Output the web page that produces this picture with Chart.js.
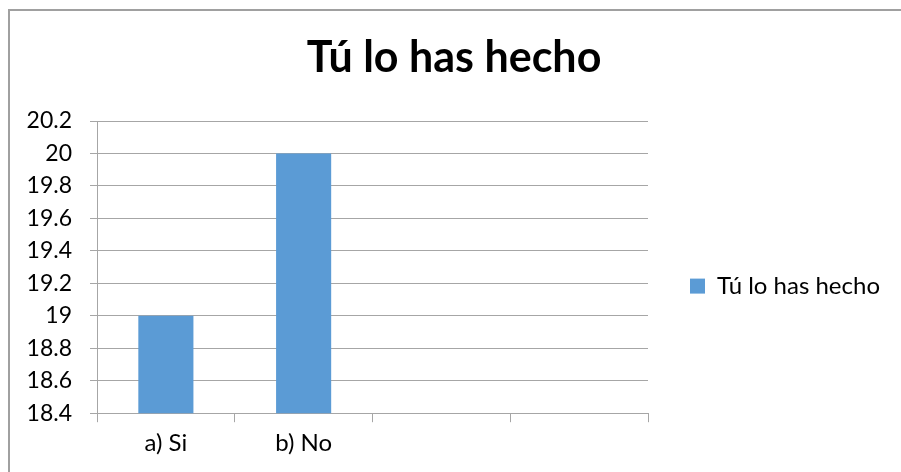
<!DOCTYPE html>
<html>
<head>
<meta charset="utf-8">
<script src="https://cdn.jsdelivr.net/npm/chart.js@4.4.1/dist/chart.umd.min.js"></script>
<style>
  html, body { margin: 0; padding: 0; background: #fff; overflow: hidden; }
  #frame {
    position: absolute; left: 8px; top: 9px;
    width: 1000px; height: 600px;
    border-left: 2px solid #a0a0a0;
    border-top: 2px solid #a0a0a0;
  }
  #wrap { position: absolute; left: 0; top: 0; width: 901px; height: 472px; }
</style>
</head>
<body>
<div id="frame"></div>
<div id="wrap"><canvas id="chart" width="901" height="472"></canvas></div>
<script>
// values
const titleText = "Tú lo has hecho";
const categories = ["a) Si", "b) No", "", ""];
const seriesName = "Tú lo has hecho";
const seriesValues = [19, 20, null, null];
const yMin = 18.4;
const yMax = 20.2;
const yStep = 0.2;

const gridColor = "#a6a6a6";
const font = "Lato, 'Open Sans', 'DejaVu Sans', sans-serif";

const ctx = document.getElementById("chart").getContext("2d");

new Chart(ctx, {
  type: "bar",
  data: {
    labels: categories,
    datasets: [
      {
        label: seriesName,
        data: seriesValues,
        backgroundColor: "#5b9bd5",
        borderWidth: 0,
        barPercentage: 0.4,
        categoryPercentage: 1.0,
      },
    ],
  },
  options: {
    responsive: false,
    animation: false,
    layout: {
      padding: { left: 18, right: 11, top: 0, bottom: 7 },
    },
    plugins: {
      title: {
        display: true,
        text: titleText,
        color: "#000",
        font: { family: font, size: 43, weight: "bold" },
        padding: { top: 32.5, bottom: 36.9 },
      },
      legend: {
        position: "right",
        // empty legend title, only used to push the entry down
        title: {
          display: true,
          text: "",
          font: { size: 1 },
          padding: { top: 106, bottom: 0 },
        },
        labels: {
          color: "#000",
          font: { family: font, size: 24 },
          boxWidth: 15,
          boxHeight: 15,
          padding: 10,
        },
      },
      tooltip: { enabled: false },
    },
    scales: {
      x: {
        offset: true,
        grid: {
          offset: true,
          drawOnChartArea: false,
          color: gridColor,
          tickLength: 9,
        },
        border: { color: gridColor },
        ticks: {
          color: "#000",
          font: { family: font, size: 24 },
          padding: 7,
          maxRotation: 0,
        },
      },
      y: {
        min: yMin,
        max: yMax,
        afterFit: (scale) => { scale.width = 79; },
        ticks: {
          stepSize: yStep,
          color: "#000",
          font: { family: font, size: 23 },
          padding: 18,
          callback: (value) => String(Number(Number(value).toFixed(1))),
        },
        grid: {
          color: gridColor,
          tickLength: 7,
        },
        border: { color: gridColor },
      },
      // hidden axis that only keeps the gap between plot and legend
      gap: {
        type: "linear",
        position: "right",
        display: false,
        afterFit: (scale) => { scale.width = 32; },
      },
    },
  },
});
</script>
</body>
</html>
